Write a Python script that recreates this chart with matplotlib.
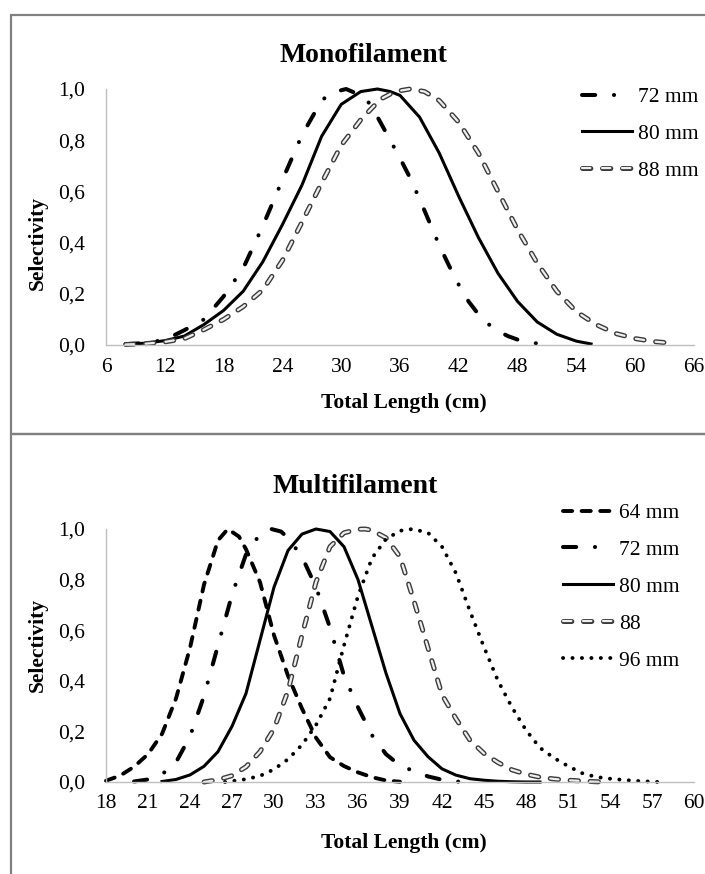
import matplotlib.pyplot as plt
from matplotlib.legend_handler import HandlerTuple
from matplotlib.patches import Rectangle

plt.rcParams['font.family'] = ['Liberation Serif', 'DejaVu Serif']
plt.rcParams['lines.scale_dashes'] = False

W, H = 705, 874
OUT = "out.png"

# ---- Monofilament (top panel)
mono_x72 = [8, 10, 12, 14, 16, 18, 20, 22, 24, 26, 28, 29, 30.5, 32, 33, 34, 35, 36, 37, 38,
            39, 40, 41, 42, 43, 44, 45, 46, 47, 48, 49, 50, 51]
mono_y72 = [0.003, 0.008, 0.02, 0.058, 0.10, 0.19, 0.30, 0.465, 0.645, 0.82, 0.955, 0.985, 1.0,
            0.975, 0.94, 0.87, 0.80, 0.73, 0.655, 0.57, 0.48, 0.39, 0.31, 0.235, 0.17, 0.12,
            0.082, 0.055, 0.035, 0.021, 0.012, 0.006, 0.003]
mono_x80 = [8, 10, 12, 14, 16, 18, 20, 22, 24, 26, 28, 30, 32, 33.7, 35, 36, 38, 40, 42, 44,
            46, 48, 50, 52, 54, 55.5]
mono_y80 = [0.003, 0.007, 0.017, 0.035, 0.08, 0.135, 0.21, 0.325, 0.47, 0.625, 0.815, 0.94,
            0.99, 1.0, 0.99, 0.975, 0.89, 0.75, 0.58, 0.42, 0.28, 0.17, 0.09, 0.042, 0.015,
            0.004]
mono_x88 = [8, 10, 12, 14, 16, 18, 20, 22, 24, 26, 28, 30, 32, 34, 35.5, 37, 38.5, 40, 42,
            44, 46, 48, 50, 52, 54, 56, 58, 60, 62, 63.5]
mono_y88 = [0.002, 0.005, 0.012, 0.025, 0.06, 0.10, 0.15, 0.215, 0.33, 0.48, 0.633, 0.78,
            0.88, 0.96, 0.99, 1.0, 0.99, 0.955, 0.87, 0.75, 0.60, 0.45, 0.32, 0.21, 0.13,
            0.08, 0.045, 0.025, 0.013, 0.008]

# ---- Multifilament (bottom panel)
multi_x64 = [18, 19, 20, 21, 22, 23, 24, 25, 26, 26.7, 27.5, 28, 29, 30, 31, 32, 33, 34, 35,
             36, 37, 38, 39]
multi_y64 = [0.005, 0.025, 0.06, 0.11, 0.19, 0.33, 0.53, 0.78, 0.955, 1.0, 0.97, 0.92, 0.79,
             0.58, 0.42, 0.29, 0.175, 0.098, 0.063, 0.038, 0.019, 0.006, 0.001]
multi_x72 = [20, 21, 22, 23, 24, 25, 26, 27, 28, 29, 29.8, 30.5, 31, 32, 33, 34, 35, 36, 37,
             38, 39, 40, 41, 42, 43, 43.6]
multi_y72 = [0.002, 0.01, 0.03, 0.078, 0.18, 0.34, 0.54, 0.74, 0.90, 0.98, 1.0, 0.99, 0.965,
             0.89, 0.77, 0.61, 0.42, 0.295, 0.185, 0.11, 0.065, 0.043, 0.022, 0.009, 0.002, 0.0]
multi_x80 = [22, 23, 24, 25, 26, 27, 28, 29, 30, 31, 32, 33, 34, 35, 36, 37, 38, 39, 40, 41,
             42, 43, 44, 45, 46, 47, 48, 49]
multi_y80 = [0.002, 0.01, 0.028, 0.062, 0.12, 0.22, 0.35, 0.56, 0.77, 0.915, 0.98, 1.0, 0.99,
             0.93, 0.80, 0.615, 0.43, 0.27, 0.165, 0.10, 0.052, 0.027, 0.013, 0.007, 0.003,
             0.001, 0.0, 0.0]
multi_x88 = [25, 26, 27, 28, 29, 30, 31, 32, 33, 34, 35, 36, 36.5, 37, 38, 39, 40, 41, 42, 43,
             44, 45, 46, 47, 48, 49, 50, 51, 52, 53, 54]
multi_y88 = [0.0, 0.009, 0.025, 0.06, 0.12, 0.21, 0.36, 0.58, 0.79, 0.93, 0.985, 0.999, 1.0,
             0.995, 0.965, 0.89, 0.715, 0.53, 0.345, 0.25, 0.165, 0.113, 0.077, 0.048, 0.031,
             0.019, 0.012, 0.007, 0.004, 0.001, 0.0]
multi_x96 = [26.5, 28, 29, 30, 31, 32, 33, 34, 35, 36, 37, 38, 39, 39.9, 41, 42, 43, 44, 45,
             46, 47, 48, 49, 50, 51, 52, 53, 54, 55, 56, 57.5]
multi_y96 = [0.0, 0.011, 0.024, 0.05, 0.09, 0.147, 0.225, 0.33, 0.54, 0.735, 0.885, 0.96,
             0.993, 1.0, 0.985, 0.93, 0.825, 0.675, 0.533, 0.40, 0.295, 0.205, 0.135, 0.095,
             0.063, 0.035, 0.02, 0.013, 0.008, 0.004, 0.0]

y_ticks = [0, 0.2, 0.4, 0.6, 0.8, 1.0]
y_labels = ["0,0", "0,2", "0,4", "0,6", "0,8", "1,0"]
mono_xticks = list(range(6, 67, 6))
multi_xticks = list(range(18, 61, 3))

# line looks (dash lengths in points, round caps)
STYLES = {
    "64": dict(color="black", lw=2.8, dashes=(6.6, 6.8)),
    "72": dict(color="black", lw=2.9, dashes=(9.5, 13.5, 0.1, 13.5)),
    "80": dict(color="black", lw=2.2, dashes=None),
    "96": dict(color="black", lw=2.8, dashes=(0.1, 6.7)),
}
HOLLOW = dict(outer="#3a3a3a", inner="#eeeeee", lw_out=3.6, lw_in=1.6, dashes=(6.0, 8.4))


def px_axes(x0, y0, x1, y1):
    return [x0 / W, 1 - y1 / H, (x1 - x0) / W, (y1 - y0) / H]


def draw(ax, x, y, key):
    if key == "88":
        kw = dict(solid_capstyle="round", dash_capstyle="round", clip_on=False)
        a, = ax.plot(x, y, color=HOLLOW["outer"], lw=HOLLOW["lw_out"], dashes=HOLLOW["dashes"], **kw)
        b, = ax.plot(x, y, color=HOLLOW["inner"], lw=HOLLOW["lw_in"], dashes=HOLLOW["dashes"], **kw)
        return (a, b)
    st = STYLES[key]
    if st["dashes"] is None:
        ln, = ax.plot(x, y, color=st["color"], lw=st["lw"], clip_on=False)
    else:
        ln, = ax.plot(x, y, color=st["color"], lw=st["lw"], dashes=st["dashes"],
                      dash_capstyle="round", clip_on=False)
    return ln


def style_axes(ax, xlim, xticks):
    ax.set_xlim(*xlim)
    ax.set_ylim(0, 1.0)
    ax.set_xticks(xticks)
    ax.set_xticklabels([str(t) for t in xticks])
    ax.set_yticks(y_ticks)
    ax.set_yticklabels(y_labels)
    for s in ("top", "right"):
        ax.spines[s].set_visible(False)
    for s in ("left", "bottom"):
        ax.spines[s].set_color("#bfbfbf")
        ax.spines[s].set_linewidth(1.0)
    ax.tick_params(axis="both", length=0, labelsize=15.5)
    ax.tick_params(axis="x", pad=9)
    ax.tick_params(axis="y", pad=15)


fig = plt.figure(figsize=(W / 100, H / 100), dpi=100)

# panel frames
for (y0, y1) in [(15, 434), (434, 900)]:
    fig.add_artist(Rectangle((11 / W, 1 - y1 / H), 1.2, (y1 - y0) / H, transform=fig.transFigure,
                             fill=False, edgecolor="#808080", lw=1.6))

ax1 = fig.add_axes(px_axes(106, 89, 694, 345))
style_axes(ax1, (6, 66), mono_xticks)
h72 = draw(ax1, mono_x72, mono_y72, "72")
h80 = draw(ax1, mono_x80, mono_y80, "80")
h88 = draw(ax1, mono_x88, mono_y88, "88")

ax2 = fig.add_axes(px_axes(106, 529, 694, 782))
style_axes(ax2, (18, 60), multi_xticks)
g64 = draw(ax2, multi_x64, multi_y64, "64")
g72 = draw(ax2, multi_x72, multi_y72, "72")
g80 = draw(ax2, multi_x80, multi_y80, "80")
g88 = draw(ax2, multi_x88, multi_y88, "88")
g96 = draw(ax2, multi_x96, multi_y96, "96")

leg_kw = dict(loc="upper left", bbox_transform=fig.transFigure, frameon=False, borderpad=0,
              borderaxespad=0, handlelength=2.3, handletextpad=0.32, labelspacing=0.78,
              fontsize=15.5, handler_map={tuple: HandlerTuple(ndivide=1)})
fig.legend([h72, h80, h88], ["72 mm", "80 mm", "88 mm"], bbox_to_anchor=(582 / W, 1 - 87 / H), **leg_kw)
fig.legend([g64, g72, g80, g88, g96], ["64 mm", "72 mm", "80 mm", "88", "96 mm"],
           bbox_to_anchor=(563 / W, 1 - 503 / H), **leg_kw)

bold = dict(fontweight="bold")
fig.text(363 / W, 1 - 62 / H, "Monofilament", ha="center", va="baseline", fontsize=20, **bold)
fig.text(355 / W, 1 - 493 / H, "Multifilament", ha="center", va="baseline", fontsize=20, **bold)
fig.text(404 / W, 1 - 408 / H, "Total Length (cm)", ha="center", va="baseline", fontsize=15.5, **bold)
fig.text(404 / W, 1 - 848 / H, "Total Length (cm)", ha="center", va="baseline", fontsize=15.5, **bold)
fig.text(38 / W, 1 - 243 / H, "Selectivity", ha="center", va="center", rotation=90, fontsize=15.5, **bold)
fig.text(38 / W, 1 - 645 / H, "Selectivity", ha="center", va="center", rotation=90, fontsize=15.5, **bold)

fig.savefig(OUT, dpi=100, facecolor="white")
plt.close(fig)
